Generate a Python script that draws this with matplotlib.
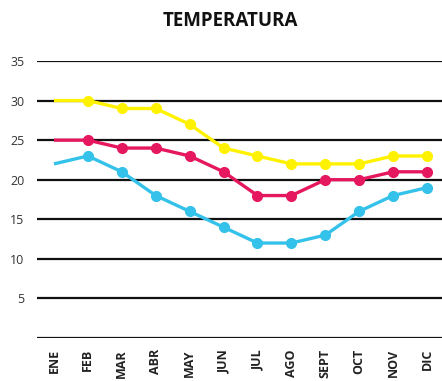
import matplotlib
matplotlib.use("Agg")
import matplotlib.pyplot as plt

months = ["ENE", "FEB", "MAR", "ABR", "MAY", "JUN", "JUL", "AGO", "SEPT", "OCT", "NOV", "DIC"]
temp_max = [30, 30, 29, 29, 27, 24, 23, 22, 22, 22, 23, 23]
temp_mean = [25, 25, 24, 24, 23, 21, 18, 18, 20, 20, 21, 21]
temp_min = [22, 23, 21, 18, 16, 14, 12, 12, 13, 16, 18, 19]
y_ticks = [0, 5, 10, 15, 20, 25, 30, 35]
y_tick_labels = ["", "5", "10", "15", "20", "25", "30", "35"]

plt.rcParams["font.family"] = ["Open Sans", "DejaVu Sans"]

fig = plt.figure(figsize=(4.42, 3.81), dpi=100)
ax = fig.add_axes([37 / 442, 1 - 338 / 381, 407 / 442, 277 / 381])

x = list(range(len(months)))
series = [
    (temp_max, "#FFF200"),
    (temp_mean, "#E5175E"),
    (temp_min, "#35C2EA"),
]
for vals, color in series:
    ax.plot(x, vals, color=color, lw=2.4, marker="o", markersize=7,
            markevery=list(range(1, len(months))), zorder=3, solid_capstyle="butt")

for yv in y_ticks:
    ax.axhline(yv, color="#111111", lw=1.6, zorder=1)

ax.set_xlim(-0.5, len(months) - 0.5)
ax.set_ylim(0, 35)
ax.set_yticks(y_ticks)
ax.set_yticklabels(y_tick_labels, fontsize=9, color="#333333")
ax.set_xticks(x)
ax.set_xticklabels(months, rotation=90, fontsize=9, fontweight="bold", color="#222222",
                   va="top")
ax.tick_params(axis="y", length=0, pad=9)
ax.tick_params(axis="x", length=0, pad=8)
for s in ax.spines.values():
    s.set_visible(False)

fig.text(230 / 442, 1 - 21 / 381, "TEMPERATURA", ha="center", va="center",
         fontsize=13.5, fontweight="bold", color="#111111")

fig.savefig("out.png", dpi=100)
